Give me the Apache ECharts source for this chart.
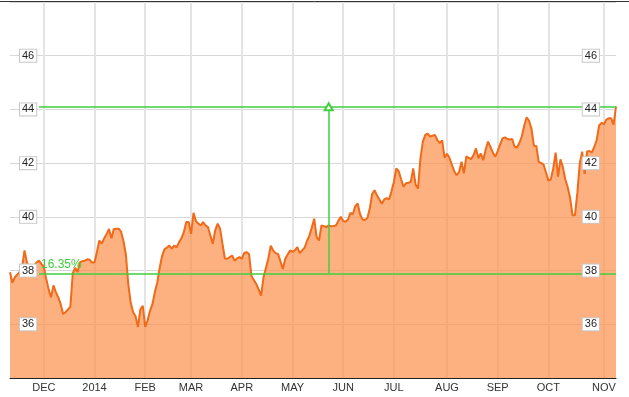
<!DOCTYPE html>
<html>
<head>
<meta charset="utf-8">
<script src="https://cdn.jsdelivr.net/npm/echarts@6/dist/echarts.min.js"></script>
<style>
html, body { margin: 0; padding: 0; background: #fff; }
#priceChart { width: 629px; height: 397px; }
</style>
</head>
<body>
<div id="priceChart"></div>
<script>
// trading days: Nov 11 2013 .. Nov 10 2014, market holidays skipped
var firstDay = '2013-11-11';
var lastDay = '2014-11-10';
var holidays = ['2013-11-28', '2013-12-25', '2014-01-01', '2014-01-20', '2014-02-17',
    '2014-04-18', '2014-05-26', '2014-07-04', '2014-09-01'];
var monthNames = ['JAN', 'FEB', 'MAR', 'APR', 'MAY', 'JUN', 'JUL', 'AUG', 'SEP', 'OCT', 'NOV', 'DEC'];

// daily close
var prices = [
    37.94, 37.55, 37.75, 37.85, 37.95, 38.10, 38.75, 38.30, 38.15, 38.10,
    38.20, 38.30, 38.37, 38.25, 38.15, 37.70, 37.30, 37.00, 37.45, 37.20,
    37.00, 36.75, 36.38, 36.45, 36.55, 36.65, 37.90, 38.10, 37.95, 38.31,
    38.35, 38.37, 38.42, 38.40, 38.30, 38.30, 38.69, 39.12, 39.00, 39.20,
    39.35, 39.55, 39.20, 39.55, 39.56, 39.56, 39.45, 39.10, 38.60, 37.50,
    36.80, 36.45, 36.30, 35.90, 36.56, 36.69, 35.90, 36.15, 36.50, 36.75,
    37.20, 37.55, 38.10, 38.55, 38.80, 38.85, 38.93, 38.82, 38.93, 38.87,
    39.05, 39.20, 39.43, 39.81, 39.81, 39.37, 40.15, 39.85, 39.75, 39.68,
    39.81, 39.68, 39.62, 39.30, 39.00, 39.50, 39.75, 39.56, 39.00, 38.45,
    38.44, 38.50, 38.56, 38.37, 38.45, 38.50, 38.44, 38.65, 38.69, 38.62,
    37.80, 37.65, 37.50, 37.30, 37.07, 37.75, 38.10, 38.45, 38.93, 38.75,
    38.65, 38.62, 38.35, 38.06, 38.44, 38.60, 38.75, 38.70, 38.75, 38.87,
    38.65, 38.75, 38.85, 39.10, 39.30, 39.60, 39.93, 39.25, 39.12, 39.68,
    39.65, 39.62, 39.68, 39.65, 39.66, 39.68, 39.85, 40.00, 39.85, 39.82,
    39.90, 40.15, 40.10, 40.40, 40.50, 40.10, 39.90, 39.88, 39.95, 40.30,
    40.85, 40.99, 40.80, 40.65, 40.49, 40.65, 40.70, 40.65, 40.95, 41.30,
    41.80, 41.70, 41.40, 41.12, 41.25, 41.27, 41.30, 41.80, 41.20, 41.06,
    42.18, 42.80, 43.05, 43.10, 42.99, 43.02, 43.05, 42.86, 42.75, 42.85,
    42.20, 42.35, 42.20, 41.95, 41.70, 41.55, 41.67, 42.05, 41.62, 42.25,
    42.20, 42.15, 42.30, 42.55, 42.18, 42.36, 42.11, 42.50, 42.80, 42.60,
    42.40, 42.24, 42.45, 42.70, 42.92, 42.96, 42.90, 42.88, 42.90, 42.61,
    42.58, 42.75, 43.00, 43.40, 43.71, 43.58, 43.28, 42.65, 42.64, 42.05,
    42.00, 41.95, 41.65, 41.35, 41.40, 41.80, 42.39, 41.50, 42.14, 41.85,
    41.40, 41.10, 40.70, 40.06, 40.06, 40.90, 42.00, 42.43, 41.60, 42.43,
    42.45, 42.40, 42.60, 42.86, 43.40, 43.50, 43.45, 43.62, 43.67, 43.67,
    43.43, 44.11
];

var yMin = 34, yMax = 48, yStep = 2;

// price-change measure drawn on the chart
var measureLow = 37.9;
var measureHigh = 44.1;
var measureFrom = 12;
var measureAt = 132;
var measureText = '16.35%';

function pad(n) { return n < 10 ? '0' + n : '' + n; }

var days = [];
(function () {
    var t = Date.parse(firstDay + 'T00:00:00Z');
    var end = Date.parse(lastDay + 'T00:00:00Z');
    for (; t <= end; t += 86400000) {
        var d = new Date(t);
        var wd = d.getUTCDay();
        var s = d.getUTCFullYear() + '-' + pad(d.getUTCMonth() + 1) + '-' + pad(d.getUTCDate());
        if (wd === 0 || wd === 6 || holidays.indexOf(s) >= 0) continue;
        days.push(s);
    }
})();

function isMonthStart(index) {
    if (index === 0) return false;
    return days[index].slice(5, 7) !== days[index - 1].slice(5, 7);
}

var lastIndex = days.length - 1;
var green = '#3fcf3f';
var labelFont = 'Liberation Sans, Arial, sans-serif';

var boxLabel = {
    inside: true,
    color: '#222',
    fontFamily: labelFont,
    fontSize: 11,
    backgroundColor: '#fff',
    borderColor: '#c8c8c8',
    borderWidth: 1,
    padding: [1, 2, 0, 2],
    showMinLabel: false,
    showMaxLabel: false
};

var priceChart = echarts.init(document.getElementById('priceChart'));
var priceOption = {
    animation: false,
    grid: {left: 10, right: 13, top: 2, bottom: 19},
    graphic: [
        {
            type: 'line',
            shape: {x1: 0, y1: 1.5, x2: 629, y2: 1.5},
            style: {stroke: '#333', lineWidth: 1}
        }
    ],
    xAxis: {
        type: 'category',
        data: days,
        boundaryGap: false,
        axisLine: {lineStyle: {color: '#222', width: 1}},
        axisTick: {show: false},
        axisLabel: {
            interval: function (index) { return isMonthStart(index); },
            margin: 4,
            color: '#333',
            fontFamily: labelFont,
            fontSize: 11,
            formatter: function (value) {
                var m = parseInt(value.slice(5, 7), 10) - 1;
                return m === 0 ? value.slice(0, 4) : monthNames[m];
            }
        },
        splitLine: {
            show: true,
            interval: function (index) { return isMonthStart(index); },
            lineStyle: {color: '#e4e4e4', width: 2}
        }
    },
    yAxis: [
        {
            type: 'value', position: 'left',
            min: yMin, max: yMax, interval: yStep,
            axisLine: {show: false}, axisTick: {show: false}, axisLabel: {show: false},
            splitLine: {lineStyle: {color: '#d8d8d8', width: 1}}
        },
        {
            type: 'value', position: 'left', z: 10,
            min: yMin, max: yMax, interval: yStep,
            axisLine: {show: false}, axisTick: {show: false}, splitLine: {show: false},
            axisLabel: Object.assign({margin: 10}, boxLabel)
        },
        {
            type: 'value', position: 'right', z: 10,
            min: yMin, max: yMax, interval: yStep,
            axisLine: {show: false}, axisTick: {show: false}, splitLine: {show: false},
            axisLabel: Object.assign({margin: 17}, boxLabel)
        }
    ],
    series: [
        {
            type: 'line',
            data: prices,
            yAxisIndex: 0,
            symbol: 'none',
            lineStyle: {color: '#f06a18', width: 2},
            areaStyle: {color: '#fc8e4a', opacity: 0.7, origin: 'start'},
            markLine: {
                silent: true,
                symbol: ['none', 'none'],
                lineStyle: {color: green, width: 1.5, type: 'solid'},
                label: {show: false},
                data: [
                    [{coord: [measureFrom, measureHigh]}, {coord: [lastIndex, measureHigh]}],
                    [
                        {
                            coord: [measureFrom, measureLow],
                            label: {
                                show: true,
                                formatter: measureText,
                                position: 'insideStartTop',
                                distance: [2, 3],
                                color: green,
                                fontFamily: labelFont,
                                fontSize: 12
                            }
                        },
                        {coord: [lastIndex, measureLow]}
                    ],
                    [
                        {coord: [measureAt, measureLow], symbol: 'none'},
                        {coord: [measureAt, measureHigh], symbol: 'emptyTriangle', symbolSize: [8, 7]}
                    ]
                ]
            }
        }
    ]
};
priceChart.setOption(priceOption);
</script>
</body>
</html>
